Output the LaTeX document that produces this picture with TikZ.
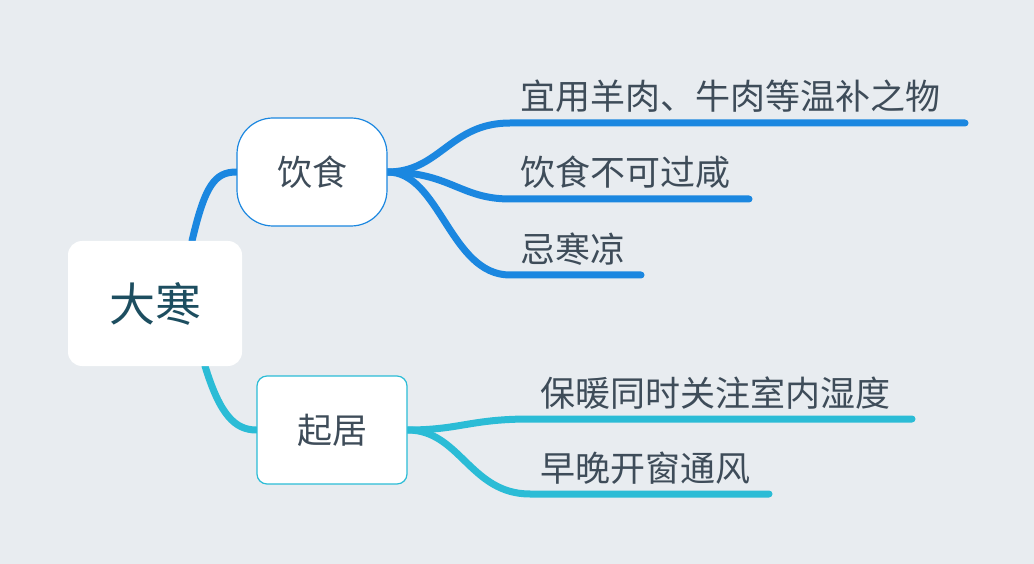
\documentclass[tikz,border=0pt]{standalone}
\usepackage{fontspec}
\newfontfamily\cjk{Noto Sans CJK SC}
\definecolor{bg}{HTML}{E8ECF0}
\definecolor{blu}{HTML}{1B87E0}
\definecolor{cya}{HTML}{2BBCD6}
\definecolor{txt}{HTML}{3E4C59}
\definecolor{roott}{HTML}{1D4E60}
\pgfdeclarelayer{bgl}
\pgfsetlayers{bgl,main}
\begin{document}
\begin{tikzpicture}[x=1pt,y=-1pt,
  leaf/.style={anchor=base west,inner sep=0pt,font=\cjk\fontsize{35}{35}\selectfont,text=txt},
  mid/.style={fill=white,line width=1.2pt,minimum width=150pt,minimum height=108pt,inner sep=0pt,font=\cjk\fontsize{35}{35}\selectfont,text=txt},
  br/.style={line width=7pt,line cap=round}]
\begin{pgfonlayer}{bgl}
\fill[bg] (0,0) rectangle (1034,564);
\end{pgfonlayer}
\node[fill=white,rounded corners=14pt,minimum width=174pt,minimum height=125pt,inner sep=0pt,font=\cjk\fontsize{46}{46}\selectfont,text=roott] (root) at (155,303.5) {大寒};
\node[mid,draw=blu,rounded corners=36pt] (ys) at (312,172) {饮食};
\node[mid,draw=cya,rounded corners=10pt] (qj) at (332,430) {起居};
\coordinate (r1) at (192,241);
\coordinate (r2) at (205,366);
\coordinate (a1) at (510,123); \coordinate (e1) at (965,123);
\coordinate (a2) at (510,199); \coordinate (e2) at (749,199);
\coordinate (a3) at (510,275); \coordinate (e3) at (641,275);
\coordinate (b1) at (530,419); \coordinate (f1) at (912,419);
\coordinate (b2) at (530,494); \coordinate (f2) at (769,494);
\begin{pgfonlayer}{bgl}
\draw[br,blu] (r1) .. controls (205,185) and (215,172) .. (ys.west);
\draw[br,cya] (r2) .. controls (220,415) and (235,430) .. (qj.west);
\draw[br,blu] (ys.east) .. controls (440,172) and (450,123) .. (a1) -- (e1);
\draw[br,blu] (ys.east) .. controls (450,172) and (460,199) .. (a2) -- (e2);
\draw[br,blu] (ys.east) .. controls (440,172) and (450,275) .. (a3) -- (e3);
\draw[br,cya] (qj.east) .. controls (460,430) and (470,419) .. (b1) -- (f1);
\draw[br,cya] (qj.east) .. controls (460,430) and (470,494) .. (b2) -- (f2);
\end{pgfonlayer}
\node[leaf] (t1) at (520,110) {宜用羊肉、牛肉等温补之物};
\node[leaf] (t2) at (520,186) {饮食不可过咸};
\node[leaf] (t3) at (520,262) {忌寒凉};
\node[leaf] (t4) at (540,406) {保暖同时关注室内湿度};
\node[leaf] (t5) at (540,481) {早晚开窗通风};
\end{tikzpicture}
\end{document}
